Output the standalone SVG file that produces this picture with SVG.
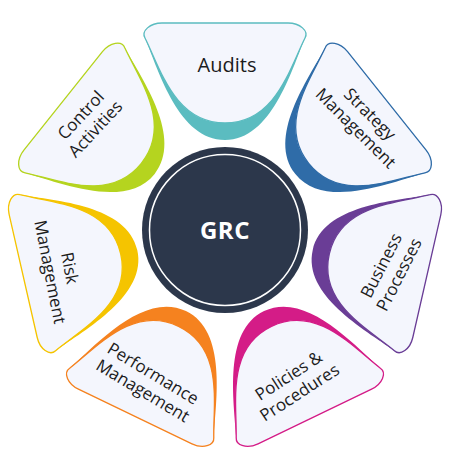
<svg xmlns="http://www.w3.org/2000/svg" xmlns:xlink="http://www.w3.org/1999/xlink" width="450" height="450" viewBox="0 0 450 450">
<style>
.pf{fill:#f4f6fd;stroke-width:1.3}
.lbl{font-family:"Open Sans","Liberation Sans",sans-serif;font-size:17px;fill:#1c1c1c;text-anchor:middle}
</style>
<defs>
<path id="petal" d="M -63,-207 L 63,-207 C 75,-207 84,-199 80,-192 C 64,-160 50,-107 0,-107 C -50,-107 -64,-160 -80,-192 C -84,-199 -75,-207 -63,-207 Z"/>
<path id="band" d="M -63,-207 L 63,-207 C 75,-207 84,-199 80,-192 C 66,-158 46,-90 0,-90 C -46,-90 -66,-158 -80,-192 C -84,-199 -75,-207 -63,-207 Z"/>
</defs>
<rect width="450" height="450" fill="#ffffff"/>
<g id="connectors"></g>

<g id="audits">
<g transform="translate(225,230)">
<use href="#band" xlink:href="#band" fill="#5bbcc0"/>
<use href="#petal" xlink:href="#petal" class="pf" stroke="#5bbcc0"/>
</g>
<text class="lbl" x="227" y="72" style="font-size:20px">Audits</text>
</g>

<g id="strategy">
<g transform="translate(225,230) rotate(51.43)">
<use href="#band" xlink:href="#band" fill="#2f6ca8"/>
<use href="#petal" xlink:href="#petal" class="pf" stroke="#2f6ca8"/>
</g>
<text class="lbl" transform="translate(363,121) rotate(45)"><tspan x="0" y="-4">Strategy</tspan><tspan x="0" y="16">Management</tspan></text>
</g>

<g id="business">
<g transform="translate(225,230) rotate(102.86)">
<use href="#band" xlink:href="#band" fill="#6a3d96"/>
<use href="#petal" xlink:href="#petal" class="pf" stroke="#6a3d96"/>
</g>
<text class="lbl" transform="translate(390,270) rotate(-63)"><tspan x="0" y="-4">Business</tspan><tspan x="0" y="16">Processes</tspan></text>
</g>

<g id="policies">
<g transform="translate(225,230) rotate(154.29)">
<use href="#band" xlink:href="#band" fill="#d41c87"/>
<use href="#petal" xlink:href="#petal" class="pf" stroke="#d41c87"/>
</g>
<text class="lbl" transform="translate(294,384) rotate(-33)"><tspan x="0" y="-4">Policies &amp;</tspan><tspan x="0" y="16">Procedures</tspan></text>
</g>

<g id="performance">
<g transform="translate(225,230) rotate(205.71)">
<use href="#band" xlink:href="#band" fill="#f5821f"/>
<use href="#petal" xlink:href="#petal" class="pf" stroke="#f5821f"/>
</g>
<text class="lbl" transform="translate(148,382) rotate(31)"><tspan x="0" y="-4">Performance</tspan><tspan x="0" y="16">Management</tspan></text>
</g>

<g id="risk">
<g transform="translate(225,230) rotate(257.14)">
<use href="#band" xlink:href="#band" fill="#f5c400"/>
<use href="#petal" xlink:href="#petal" class="pf" stroke="#f5c400"/>
</g>
<text class="lbl" transform="translate(60,270) rotate(79)"><tspan x="0" y="-4">Risk</tspan><tspan x="0" y="16">Management</tspan></text>
</g>

<g id="control">
<g transform="translate(225,230) rotate(308.57)">
<use href="#band" xlink:href="#band" fill="#b5d41f"/>
<use href="#petal" xlink:href="#petal" class="pf" stroke="#b5d41f"/>
</g>
<text class="lbl" transform="translate(88,122) rotate(-47)"><tspan x="0" y="-4">Control</tspan><tspan x="0" y="16">Activities</tspan></text>
</g>

<g id="grc">
<circle cx="225" cy="230" r="83" fill="#2c374b"/>
<circle cx="225" cy="230" r="75.5" fill="none" stroke="#ffffff" stroke-width="1.5"/>
<text x="225" y="239" style="font-family:'Open Sans','Liberation Sans',sans-serif;font-weight:bold;font-size:24px;fill:#ffffff;text-anchor:middle;letter-spacing:0.5px">GRC</text>
</g>
</svg>
